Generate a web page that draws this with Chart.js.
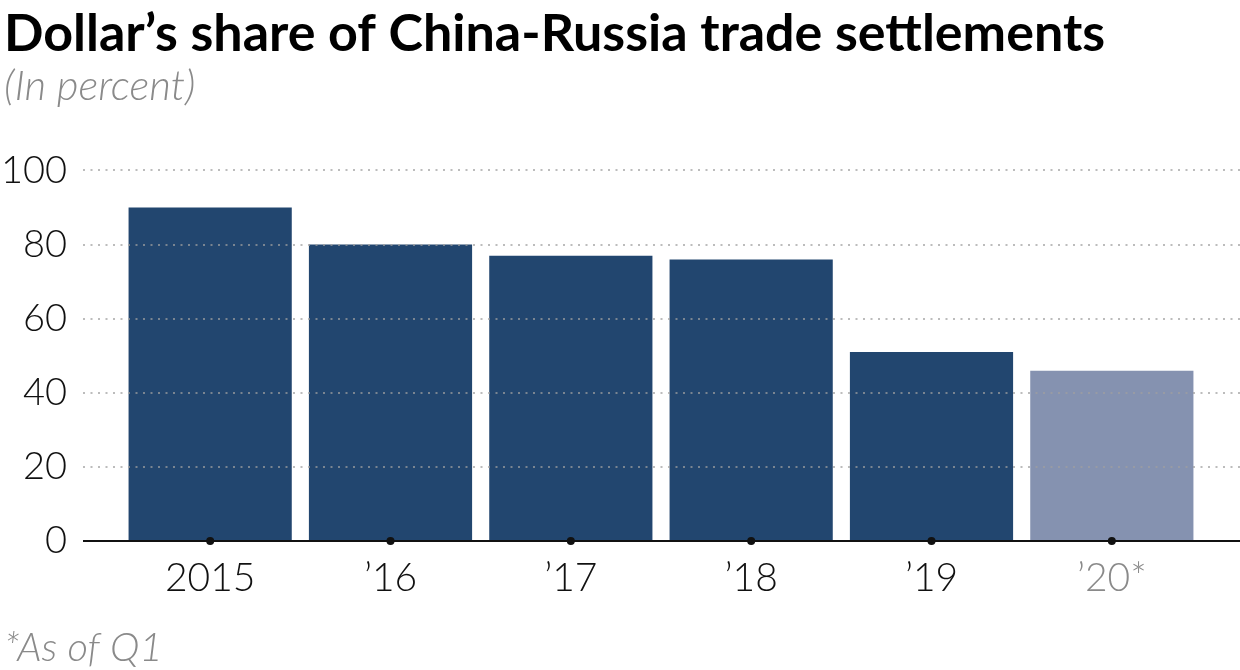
<!DOCTYPE html>
<html>
<head>
<meta charset="utf-8">
<script src="https://cdn.jsdelivr.net/npm/chart.js@4.4.1/dist/chart.umd.min.js"></script>
<style>
  html, body { margin: 0; padding: 0; background: #fff; }
  #wrap { width: 1240px; height: 670px; position: relative; }
</style>
</head>
<body>
<div id="wrap"><canvas id="c" width="1240" height="670"></canvas></div>
<script>
// ---- data ----
const categories = ['2015', '\u201916', '\u201917', '\u201918', '\u201919', '\u201920*'];
const dollarShare = [90, 80, 77, 76, 51, 46];
const yTicks = [0, 20, 40, 60, 80, 100];
const titleText = 'Dollar\u2019s share of China-Russia trade settlements';
const subtitleText = '(In percent)';
const footnoteText = '*As of Q1';

// ---- styles ----
const DARK = '#22466f';
const LIGHT = '#8592b0';
const barColors = categories.map((c, i) => i === categories.length - 1 ? LIGHT : DARK);
const tickColors = categories.map((c, i) => i === categories.length - 1 ? '#8a8a8a' : '#111');
const FONT = 'Lato, "Open Sans", sans-serif';

const decorPlugin = {
  id: 'decor',
  afterDatasetsDraw(chart) {
    const { ctx, scales } = chart;
    const y = scales.y, x = scales.x;
    const left = chart.chartArea.left - 37;
    const right = chart.width;
    ctx.save();
    // dotted grid lines
    ctx.strokeStyle = 'rgba(160,160,160,0.7)';
    ctx.lineWidth = 2;
    ctx.setLineDash([2, 5.5]);
    yTicks.forEach(v => {
      if (v === 0) return;
      const py = Math.round(y.getPixelForValue(v));
      ctx.beginPath();
      ctx.moveTo(left, py);
      ctx.lineTo(right, py);
      ctx.stroke();
    });
    // baseline
    ctx.setLineDash([]);
    ctx.strokeStyle = '#111';
    ctx.lineWidth = 2;
    const p0 = Math.round(y.getPixelForValue(0));
    ctx.beginPath();
    ctx.moveTo(left, p0);
    ctx.lineTo(right, p0);
    ctx.stroke();
    // tick dots
    ctx.fillStyle = '#111';
    categories.forEach((c, i) => {
      const px = x.getPixelForValue(i);
      ctx.beginPath();
      ctx.arc(px, p0, 4, 0, Math.PI * 2);
      ctx.fill();
    });
    ctx.restore();
  },
  afterDraw(chart) {
    const { ctx } = chart;
    ctx.save();
    ctx.font = 'italic 300 40px ' + FONT;
    ctx.fillStyle = '#8a8a8a';
    ctx.textBaseline = 'alphabetic';
    ctx.textAlign = 'left';
    ctx.fillText(footnoteText, 4, 661);
    ctx.restore();
  }
};

new Chart(document.getElementById('c'), {
  type: 'bar',
  data: {
    labels: categories,
    datasets: [{
      data: dollarShare,
      backgroundColor: barColors,
      borderWidth: 0,
      categoryPercentage: 1,
      barPercentage: 0.905
    }]
  },
  options: {
    responsive: false,
    animation: false,
    devicePixelRatio: 1,
    layout: { padding: { left: 4, right: 38, top: 6, bottom: 62 } },
    plugins: {
      legend: { display: false },
      tooltip: { enabled: false },
      title: {
        display: true,
        text: titleText,
        align: 'start',
        color: '#000',
        font: { family: FONT, size: 52, weight: 'bold', lineHeight: 1.1 },
        padding: { top: 0, bottom: 0 }
      },
      subtitle: {
        display: true,
        text: subtitleText,
        align: 'start',
        color: '#8a8a8a',
        font: { family: FONT, size: 42, style: 'italic', weight: 300, lineHeight: 1.1 },
        padding: { top: 0, bottom: 61 }
      }
    },
    scales: {
      x: {
        grid: { display: false },
        border: { display: false },
        ticks: {
          color: tickColors,
          font: { family: FONT, size: 39, weight: 300 },
          padding: 6
        }
      },
      y: {
        min: 0,
        max: 100,
        afterBuildTicks(axis) { axis.ticks = yTicks.map(v => ({ value: v })); },
        afterFit(axis) { axis.width = 116; },
        grid: { display: false, drawTicks: false },
        border: { display: false },
        ticks: {
          color: '#111',
          font: { family: FONT, size: 38, weight: 300 },
          padding: 53
        }
      }
    }
  },
  plugins: [decorPlugin]
});
</script>
</body>
</html>
